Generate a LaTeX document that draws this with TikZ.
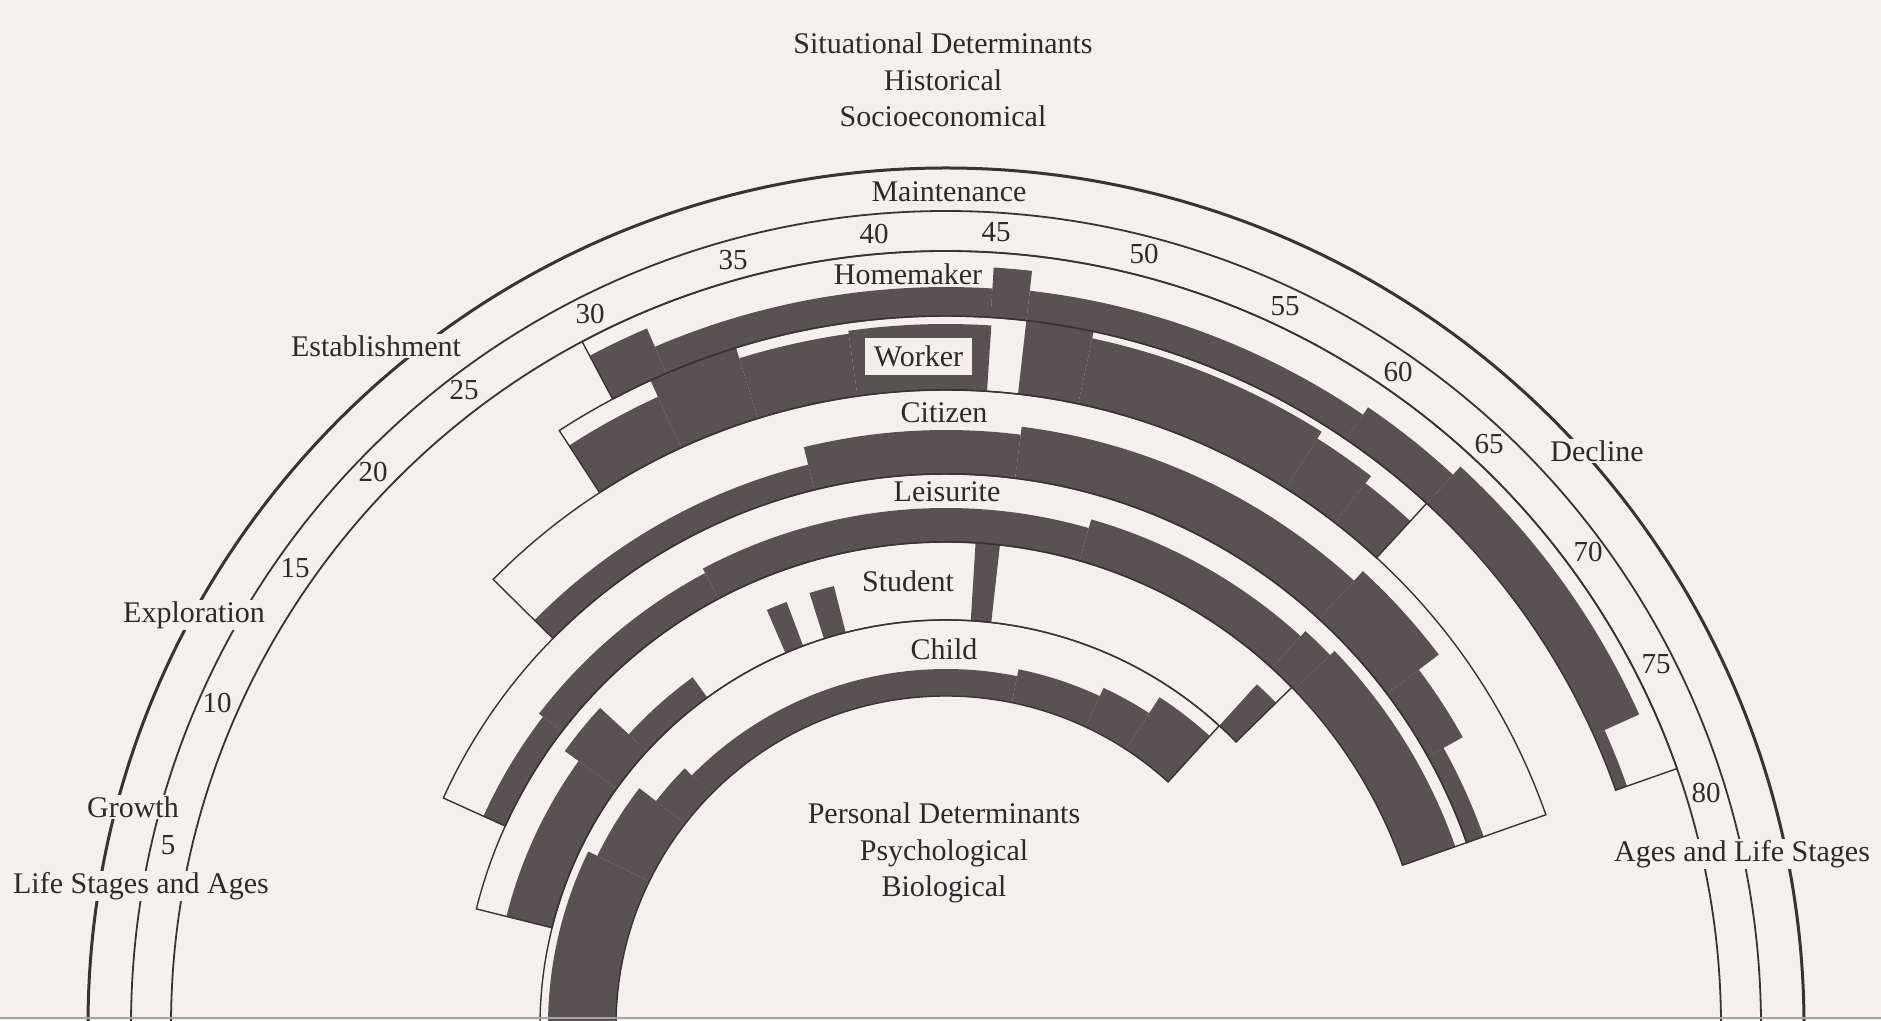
\documentclass[tikz,border=0pt]{standalone}
\usepackage{fontspec}
\setmainfont{Liberation Serif}
\definecolor{paper}{RGB}{244,241,235}
\definecolor{ink}{RGB}{88,82,80}
\definecolor{linec}{RGB}{55,52,50}
\definecolor{textc}{RGB}{45,42,42}
\tikzset{
  inkfill/.style={fill=ink},
  bandline/.style={draw=linec, line width=1.4pt},
  stageouter/.style={draw=linec, line width=3pt},
  stagearc/.style={draw=linec, line width=1.8pt},
  lbl/.style={font=\fontsize{30}{36.5}\selectfont, text=textc, inner sep=1pt, align=center},
  brk/.style={lbl, fill=paper},
  agenum/.style={font=\fontsize{29}{34}\selectfont, text=textc, inner sep=0pt}
}
% black involvement segment: r_in, angle1, angle2, r_top
\newcommand{\blk}[4]{\fill[inkfill] (#2:#1) arc[start angle=#2, end angle=#3, radius=#1] -- (#3:#4) arc[start angle=#3, end angle=#2, radius=#4] -- cycle;}
% band outline: r_in, r_out, angle1, angle2
\newcommand{\bandoutline}[4]{\draw[bandline] (#3:#1) arc[start angle=#3, end angle=#4, radius=#1] -- (#4:#2) arc[start angle=#4, end angle=#3, radius=#2] -- cycle;}
\begin{document}
\begin{tikzpicture}[x=1pt,y=1pt]
\fill[paper] (0,0) rectangle (1881,1020);
\useasboundingbox (0,0) rectangle (1881,1020);
\begin{scope}
\clip (0,0) rectangle (1881,1020);
\begin{scope}[shift={(946,-6)}]
  % life stage arcs
  \draw[stageouter] (181:858) arc[start angle=181, end angle=-1, radius=858];
  \draw[stagearc] (181:815) arc[start angle=181, end angle=-1, radius=815];
  \draw[stagearc] (181:775) arc[start angle=181, end angle=-1, radius=775];
  % Child (330-406)
  \blk{330}{181}{154}{398}
  \blk{330}{154}{142.2}{388}
  \blk{330}{142.2}{135.4}{367}
  \blk{330}{135.4}{78.5}{357}
  \blk{330}{78.5}{65}{364}
  \blk{330}{65}{57}{373}
  \blk{330}{57}{47.7}{392}
  % Student (406-484)
  \blk{406}{166}{144.2}{453}
  \blk{406}{144.2}{137.4}{470}
  \blk{406}{137.4}{126}{431}
  \blk{406}{113.3}{110.6}{453}
  \blk{406}{107.5}{104.3}{454}
  \blk{406}{86.5}{83.6}{484}
  \blk{406}{47.7}{44.4}{462}
  % Leisurite (484-552)
  \blk{484}{155.6}{142.5}{508}
  \blk{484}{142.5}{118}{513}
  \blk{484}{118}{74}{518}
  \blk{484}{74}{47.7}{527}
  \blk{484}{47.7}{44}{534}
  \blk{484}{44}{19.4}{540}
  % Citizen (552-636)
  \blk{552}{135.4}{103.8}{578}
  \blk{552}{103.8}{82.8}{596}
  \blk{552}{82.8}{47.5}{604}
  \blk{552}{47.5}{37}{617}
  \blk{552}{37}{29.2}{592}
  \blk{552}{29.2}{19.4}{570}
  % Worker (636-710)
  \blk{636}{123}{114.6}{692}
  \blk{636}{114.6}{107.2}{710}
  \blk{636}{107.2}{98}{699}
  \blk{636}{98}{86.3}{702}
  \blk{636}{83.5}{78}{710}
  \blk{636}{78}{57.7}{703}
  \blk{636}{57.7}{52.3}{695}
  \blk{636}{52.3}{47.4}{686}
  % Homemaker (710-775)
  \blk{710}{118}{113.2}{759}
  \blk{710}{113.2}{86.4}{739}
  \blk{710}{86.4}{83.5}{760}
  \blk{710}{83.5}{55.7}{740}
  \blk{710}{55.7}{47.4}{749}
  \blk{710}{47.4}{24.2}{760}
  \blk{710}{24.2}{19.4}{722}
  % band outlines
  \bandoutline{330}{406}{181}{47.7}
  \bandoutline{406}{484}{166}{44.4}
  \bandoutline{484}{552}{155.6}{19.4}
  \bandoutline{552}{636}{135.4}{19.4}
  \bandoutline{636}{710}{123}{47.4}
  \bandoutline{710}{775}{118}{19.4}
\end{scope}
\draw[linec!45, line width=1.5pt] (0,2) -- (1881,2);
\end{scope}
% role labels
\node[lbl] (homemaker) at (908,746) {Homemaker};
\node[lbl, fill=paper, minimum width=107, minimum height=37, inner sep=0pt] (worker) at (918.5,663.5) {Worker};
\node[lbl] (citizen) at (944,607) {Citizen};
\node[lbl] (leisurite) at (947,528) {Leisurite};
\node[lbl] (student) at (908,439) {Student};
\node[lbl] (child) at (944,371) {Child};
% determinants
\node[lbl] (sitdet) at (943,940) {Situational Determinants\\Historical\\Socioeconomical};
\node[lbl] (persdet) at (944,167) {Personal Determinants\\Psychological\\Biological};
% life stages
\node[lbl] (maint) at (949,828) {Maintenance};
\node[brk] (estab) at (376,674) {Establishment};
\node[brk] (explor) at (194,405) {Exploration};
\node[brk] (growth) at (133,213) {Growth};
\node[brk] (lsa) at (141,134) {Life Stages and Ages};
\node[brk] (decline) at (1597,569) {Decline};
\node[brk] (als) at (1742,166) {Ages and Life Stages};
% ages
\node[agenum] (a5) at (168,175) {5};
\node[agenum] (a10) at (217,317) {10};
\node[agenum] (a15) at (295,452) {15};
\node[agenum] (a20) at (373,548) {20};
\node[agenum] (a25) at (464,630) {25};
\node[agenum] (a30) at (590,706) {30};
\node[agenum] (a35) at (733,760) {35};
\node[agenum] (a40) at (874,786) {40};
\node[agenum] (a45) at (996,788) {45};
\node[agenum] (a50) at (1144,766) {50};
\node[agenum] (a55) at (1285,714) {55};
\node[agenum] (a60) at (1398,648) {60};
\node[agenum] (a65) at (1489,576) {65};
\node[agenum] (a70) at (1588,468) {70};
\node[agenum] (a75) at (1656,356) {75};
\node[agenum] (a80) at (1706,227) {80};
\end{tikzpicture}
\end{document}
